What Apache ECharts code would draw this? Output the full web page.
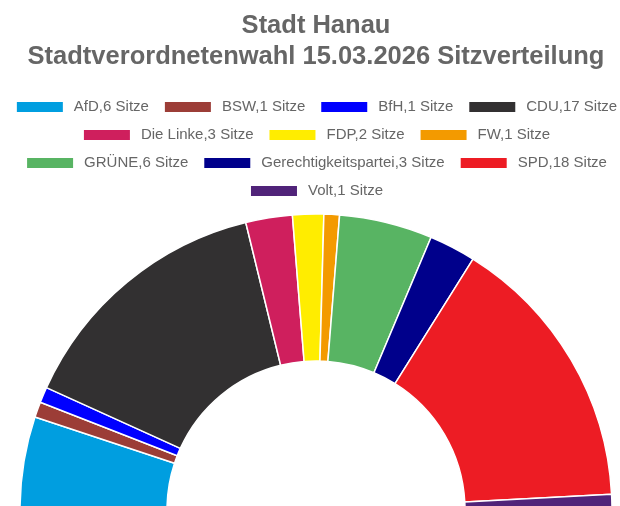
<!DOCTYPE html>
<html>
<head>
<meta charset="utf-8">
<script src="https://cdn.jsdelivr.net/npm/echarts@6/dist/echarts.min.js"></script>
<style>html,body{margin:0;padding:0;background:#fff;overflow:hidden;width:620px;height:506px;}#c{width:632px;height:506px;}</style>
</head>
<body>
<div id="c"></div>
<script>
const parties = ['AfD','BSW','BfH','CDU','Die Linke','FDP','FW','GRÜNE','Gerechtigkeitspartei','SPD','Volt'];
const seats = [6,1,1,17,3,2,1,6,3,18,1];
const colors = ['#009ee0','#9c3d37','#0000ff','#323031','#cf1f5d','#ffed00','#f39a00','#58b463','#00008b','#ed1c24','#502379'];
const titleLines = ['Stadt Hanau','Stadtverordnetenwahl 15.03.2026 Sitzverteilung'];
const legendRows = [[0,1,2,3],[4,5,6],[7,8,9],[10]];

const names = parties.map((p,i)=> p + ',' + seats[i] + ' Sitze');
const data = parties.map((p,i)=>({
  name: names[i],
  value: seats[i],
  itemStyle: {color: colors[i]}
}));

const font = 'Liberation Sans, Arial, sans-serif';
const legends = legendRows.map((row, r)=>({
  top: 99.5 + r*28,
  left: 'center',
  padding: 0,
  itemWidth: 48,
  itemHeight: 12,
  itemGap: 14,
  icon: 'rect',
  data: row.map(i=>names[i]),
  textStyle: {fontFamily: font, fontSize: 15, color: '#666', padding: [0,0,0,5]}
}));

const chart = echarts.init(document.getElementById('c'));
chart.setOption({
  animation: false,
  title: {
    text: titleLines.join('\n'),
    left: 'center',
    top: 10.5,
    padding: 0,
    textStyle: {fontFamily: font, fontSize: 25.5, fontWeight: 'bold', color: '#666', lineHeight: 31}
  },
  legend: legends,
  series: [{
    type: 'pie',
    center: [316, 510],
    radius: [149, 296],
    startAngle: 180,
    endAngle: 0,
    clockwise: true,
    label: {show: false},
    labelLine: {show: false},
    itemStyle: {borderColor: '#fff', borderWidth: 1.5},
    data: data
  }]
});
</script>
</body>
</html>
